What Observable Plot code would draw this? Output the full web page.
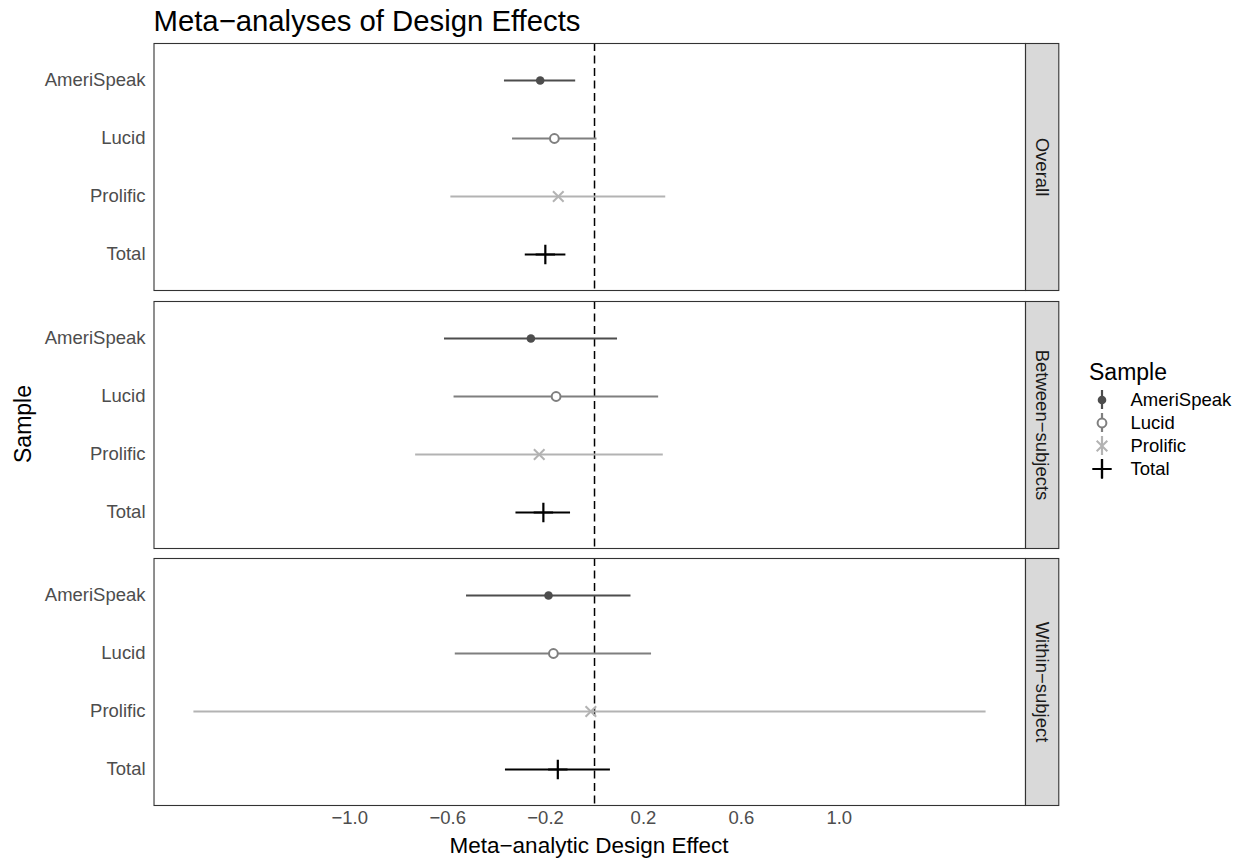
<!DOCTYPE html>
<html>
<head>
<meta charset="utf-8">
<script src="https://cdn.jsdelivr.net/npm/d3@7"></script>
<script src="https://cdn.jsdelivr.net/npm/@observablehq/plot@0.6"></script>
<style>
  body { margin: 0; background: #ffffff; }
  #root { position: relative; width: 1244px; height: 860px; overflow: hidden; background: #ffffff;
          font-family: "Liberation Sans", Arial, Helvetica, sans-serif; }
  .abs { position: absolute; white-space: nowrap; line-height: 1; }
</style>
</head>
<body>
<div id="root"></div>
<script>
// ---------------- data ----------------
const samples = ["AmeriSpeak", "Lucid", "Prolific", "Total"];
const sampleColors = ["#4D4D4D", "#7F7F7F", "#B3B3B3", "#000000"];
const designs = ["Overall", "Between\u2212subjects", "Within\u2212subject"];

const estOverall = [-0.222, -0.164, -0.148, -0.201];
const loOverall  = [-0.368, -0.335, -0.587, -0.283];
const hiOverall  = [-0.077,  0.010,  0.291, -0.117];

const estBetween = [-0.260, -0.157, -0.226, -0.209];
const loBetween  = [-0.613, -0.574, -0.731, -0.321];
const hiBetween  = [ 0.094,  0.262,  0.281, -0.098];

const estWithin  = [-0.188, -0.168, -0.015, -0.150];
const loWithin   = [-0.523, -0.569, -1.637, -0.364];
const hiWithin   = [ 0.149,  0.233,  1.600,  0.065];

const xTicks = [-1.0, -0.6, -0.2, 0.2, 0.6, 1.0];
// data region of the panel (the strip on the right gets extra room below)
const xDomainData = [-1.8, 1.761];

const titleText = "Meta\u2212analyses of Design Effects";
const xTitleText = "Meta\u2212analytic Design Effect";
const yTitleText = "Sample";
const legendTitleText = "Sample";

// ---------------- helpers ----------------
const est = [estOverall, estBetween, estWithin];
const lo = [loOverall, loBetween, loWithin];
const hi = [hiOverall, hiBetween, hiWithin];

const root = document.getElementById("root");
const FONT = '"Liberation Sans", Arial, Helvetica, sans-serif';

function addText(txt, css) {
  const d = document.createElement("div");
  d.className = "abs";
  d.textContent = txt;
  Object.assign(d.style, css);
  root.appendChild(d);
  return d;
}

const colorScale = {domain: samples, range: sampleColors};

// ---------------- layout ----------------
const panelLeft = 153.5, panelRight = 1025, stripW = 33.3;
const panelTops = [42.7, 300.7, 558.3];
const panelH = 247;
const pxPerUnit = (panelRight - panelLeft) / (xDomainData[1] - xDomainData[0]);
const xDomain = [xDomainData[0], xDomainData[1] + stripW / pxPerUnit];

designs.forEach((design, i) => {
  const rows = samples.map((s, j) => ({sample: s, est: est[i][j], lo: lo[i][j], hi: hi[i][j]}));
  const by = s => rows.filter(r => r.sample === s);
  const last = i === designs.length - 1;
  const mt = 2;
  const mb = last ? (860 - (panelTops[i] + panelH)) : 2;
  const plot = Plot.plot({
    width: 1244,
    height: mt + panelH + mb,
    marginLeft: panelLeft,
    marginRight: 1244 - panelRight - stripW,
    marginTop: mt,
    marginBottom: mb,
    style: {fontFamily: FONT, fontSize: "18.5px", color: "#4D4D4D", background: "transparent", overflow: "visible"},
    x: {domain: xDomain, ticks: xTicks, tickFormat: d3.format(".1f"), tickSize: 0, tickPadding: 5,
        label: null, axis: last ? "bottom" : null},
    y: {type: "point", domain: samples, padding: 0.6, tickSize: 0, tickPadding: 8.5, label: null},
    color: colorScale,
    marks: [
      // facet strip
      Plot.frame({fill: "#D9D9D9", stroke: "#333333", strokeWidth: 1.1, insetLeft: panelRight - panelLeft}),
      Plot.text([design], {text: d => d, frameAnchor: "right", textAnchor: "middle", dx: -stripW / 2,
                           rotate: 90, fill: "#1A1A1A", fontSize: 18.5}),
      // data
      Plot.ruleX([0], {stroke: "#000000", strokeWidth: 1.5, strokeDasharray: "8,4.5"}),
      Plot.ruleY(rows, {y: "sample", x1: "lo", x2: "hi", stroke: "sample", strokeWidth: 2.2}),
      Plot.dot(by("AmeriSpeak"), {x: "est", y: "sample", fill: "sample", r: 4.3}),
      Plot.dot(by("Lucid"), {x: "est", y: "sample", stroke: "sample", fill: "white", strokeWidth: 2, r: 4.4}),
      Plot.dot(by("Prolific"), {x: "est", y: "sample", stroke: "sample", symbol: "times", strokeWidth: 2, r: 4.9}),
      Plot.dot(by("Total"), {x: "est", y: "sample", stroke: "sample", symbol: "plus", strokeWidth: 2.2, r: 6.3}),
      // panel border
      Plot.frame({stroke: "#333333", strokeWidth: 1.1, insetRight: stripW})
    ]
  });
  plot.style.position = "absolute";
  plot.style.left = "0px";
  plot.style.top = (panelTops[i] - mt) + "px";
  root.appendChild(plot);
});

// ---------------- legend ----------------
const legendRow = 23;
const legend = Plot.plot({
  width: 160,
  height: legendRow * samples.length,
  marginTop: 0, marginBottom: 0, marginLeft: 0, marginRight: 0,
  style: {fontFamily: FONT, fontSize: "18.5px", color: "#000000", background: "transparent", overflow: "visible"},
  x: {domain: [0, 1], range: [21.5, 22.5], axis: null},
  y: {type: "band", domain: samples, padding: 0, axis: null},
  color: colorScale,
  marks: [
    Plot.tickX(samples, {x: () => 0, y: d => d, stroke: d => d, strokeWidth: 2.2, insetTop: 2, insetBottom: 2}),
    Plot.dot(["AmeriSpeak"], {x: () => 0, y: d => d, fill: d => d, r: 4.3}),
    Plot.dot(["Lucid"], {x: () => 0, y: d => d, stroke: d => d, fill: "white", strokeWidth: 2, r: 4.4}),
    Plot.dot(["Prolific"], {x: () => 0, y: d => d, stroke: d => d, symbol: "times", strokeWidth: 2, r: 4.9}),
    Plot.dot(["Total"], {x: () => 0, y: d => d, stroke: d => d, symbol: "plus", strokeWidth: 2.2, r: 6.3}),
    Plot.text(samples, {x: () => 0, y: d => d, text: d => d, textAnchor: "start", dx: 28.5,
                        fill: "#000000", fontSize: 18.5})
  ]
});
legend.style.position = "absolute";
legend.style.left = "1080px";
legend.style.top = "387.5px";
root.appendChild(legend);

// ---------------- titles ----------------
addText(titleText, {left: "153.5px", top: "6px", fontSize: "29.3px", color: "#000000"});
addText(xTitleText, {left: "589px", top: "835px", fontSize: "22.5px", color: "#000000", transform: "translateX(-50%)"});
addText(yTitleText, {left: "23px", top: "424px", fontSize: "23px", color: "#000000",
                     transform: "translate(-50%, -50%) rotate(-90deg)"});
addText(legendTitleText, {left: "1089px", top: "360.5px", fontSize: "23px", color: "#000000"});
</script>
</body>
</html>
